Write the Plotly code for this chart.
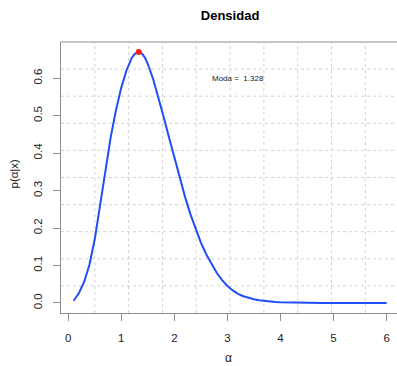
import plotly.graph_objects as go

# ---- data ----
alpha = [0.1, 0.2, 0.3, 0.4, 0.5, 0.6, 0.7, 0.8, 0.9, 1.0, 1.1, 1.2, 1.25, 1.3, 1.328,
         1.35, 1.4, 1.45, 1.5, 1.6, 1.7, 1.8, 1.9, 2.0, 2.1, 2.2, 2.3, 2.4, 2.5, 2.6,
         2.7, 2.8, 2.9, 3.0, 3.1, 3.2, 3.3, 3.4, 3.5, 3.6, 3.7, 3.8, 3.9, 4.0,
         4.2, 4.4, 4.6, 4.8, 5.0, 5.5, 6.0]
dens = [0.006, 0.026, 0.056, 0.102, 0.170, 0.258, 0.352, 0.442, 0.515, 0.575,
        0.622, 0.655, 0.6645, 0.669, 0.670,
        0.6695, 0.6644, 0.6539, 0.638, 0.598, 0.549, 0.496, 0.4415, 0.387, 0.334,
        0.284, 0.238, 0.197, 0.161, 0.130, 0.103, 0.080, 0.061, 0.0455, 0.0335,
        0.0245, 0.018, 0.0132, 0.0097, 0.0072, 0.0053, 0.0039, 0.0028, 0.0020,
        0.0011, 0.0006, 0.0003, 0.00017, 0.0001, 0.00003, 0.00001]
mode_x = [1.328]
mode_y = [0.670]
x_ticks = [0, 1, 2, 3, 4, 5, 6]
y_ticks = [0.0, 0.1, 0.2, 0.3, 0.4, 0.5, 0.6]
y_tick_text = ["0.0", "0.1", "0.2", "0.3", "0.4", "0.5", "0.6"]
mode_label = "Moda =  1.328"

# ---- R-like usr ranges (4% extension) ----
W, H = 397, 366
ml, mr, mt, mb = 61, 0, 42, 53
xr = max(alpha) - min(alpha)
ux0, ux1 = min(alpha) - 0.04 * xr, max(alpha) + 0.04 * xr
yr = max(dens) - min(dens)
uy0, uy1 = min(dens) - 0.04 * yr, max(dens) + 0.04 * yr
ppu_x = 53.07
x_end = ux0 + (W - ml - mr) / ppu_x

FONT = "Liberation Sans, Arial, Helvetica, sans-serif"
BOX = "#8c8c8c"

fig = go.Figure()
fig.add_trace(go.Scatter(x=alpha, y=dens, mode="lines",
                         line=dict(color="#1f4ef5", width=2, shape="linear"),
                         hoverinfo="skip", showlegend=False))
fig.add_trace(go.Scatter(x=mode_x, y=mode_y, mode="markers",
                         marker=dict(color="#ff2020", size=6),
                         showlegend=False))

shapes = []
for k in range(1, 10):
    gx = ux0 + k * (ux1 - ux0) / 10
    shapes.append(dict(type="line", xref="x", yref="paper", x0=gx, x1=gx, y0=0, y1=1,
                       line=dict(color="#d3d3d3", width=1, dash="dot"), layer="below"))
    gy = uy0 + k * (uy1 - uy0) / 10
    shapes.append(dict(type="line", xref="paper", yref="y", x0=0, x1=1, y0=gy, y1=gy,
                       line=dict(color="#d3d3d3", width=1, dash="dot"), layer="below"))
# top edge of the box
shapes.append(dict(type="line", xref="paper", yref="paper", x0=0, x1=1, y0=1, y1=1,
                   line=dict(color=BOX, width=1)))

fig.update_layout(
    width=W, height=H,
    margin=dict(l=ml, r=mr, t=mt, b=mb),
    paper_bgcolor="white", plot_bgcolor="white",
    font=dict(family=FONT, color="#222222"),
    shapes=shapes,
    title=dict(text="<b>Densidad</b>", x=(ml + (ml + (ux1 - ux0) * ppu_x)) / 2 / W,
               xanchor="center", y=1 - 15 / H, yanchor="middle",
               font=dict(size=13, color="black", family=FONT)),
    xaxis=dict(range=[ux0, x_end], tickvals=x_ticks, ticktext=[str(t) for t in x_ticks],
               showgrid=False, zeroline=False, showline=True, linecolor=BOX, linewidth=1,
               ticks="outside", ticklen=7, tickcolor=BOX, tickwidth=1,
               tickfont=dict(size=11.5, color="#222222"), ticklabelstandoff=7),
    yaxis=dict(range=[uy0, uy1], tickvals=y_ticks, ticktext=y_tick_text,
               showgrid=False, zeroline=False, showline=True, linecolor=BOX, linewidth=1,
               ticks="outside", ticklen=7, tickcolor=BOX, tickwidth=1, tickangle=-90,
               tickfont=dict(size=11.5, color="#222222"), ticklabelstandoff=6),
    annotations=[
        dict(text="α", xref="paper", yref="paper", x=(228 - ml) / (W - ml - mr),
             y=-(358 - (H - mb)) / (H - mt - mb), showarrow=False,
             xanchor="center", yanchor="middle", font=dict(size=12, color="#222222")),
        dict(text="p(α|x)", xref="paper", yref="paper", x=-(ml - 13.5) / (W - ml - mr),
             y=1 - (174 - mt) / (H - mt - mb), showarrow=False, textangle=-90,
             xanchor="center", yanchor="middle", font=dict(size=11.5, color="#222222")),
        dict(text=mode_label, x=3.2, y=0.6, xref="x", yref="y", showarrow=False,
             xanchor="center", yanchor="middle", font=dict(size=8, color="#222222")),
    ],
)

fig.write_html("out.html")
